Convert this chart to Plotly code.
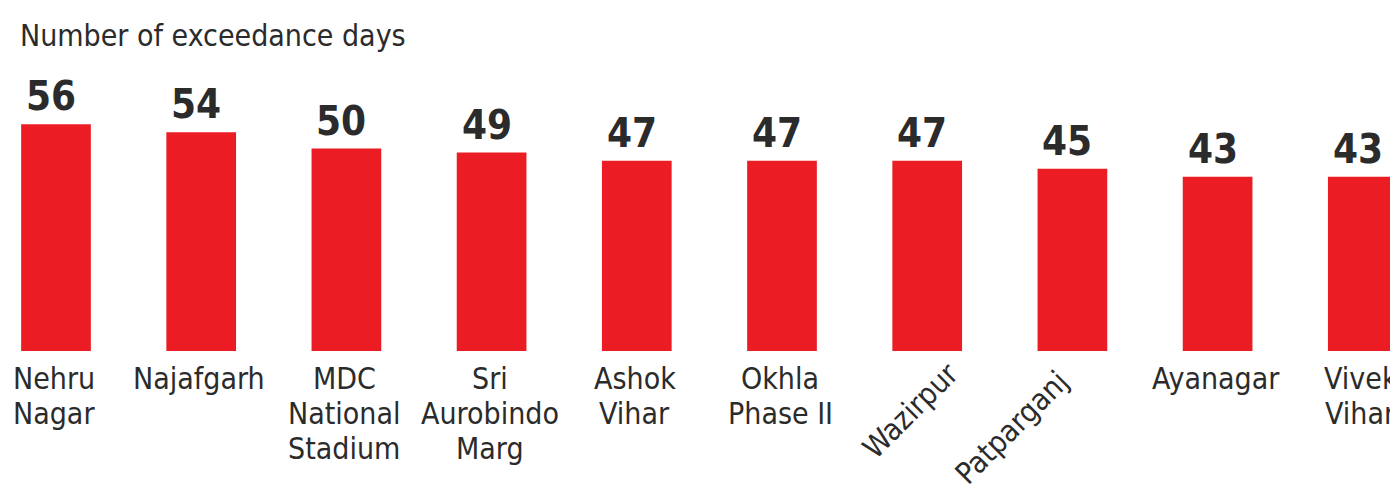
import plotly.graph_objects as go

# ---- data ----
stations = ["Nehru Nagar", "Najafgarh", "MDC National Stadium", "Sri Aurobindo Marg",
            "Ashok Vihar", "Okhla Phase II", "Wazirpur", "Patparganj", "Ayanagar", "Vivek Vihar"]
label_lines = [["Nehru", "Nagar"], ["Najafgarh"], ["MDC", "National", "Stadium"],
               ["Sri", "Aurobindo", "Marg"], ["Ashok", "Vihar"], ["Okhla", "Phase II"],
               ["Wazirpur"], ["Patparganj"], ["Ayanagar"], ["Vivek", "Vihar"]]
exceedance_days = [56, 54, 50, 49, 47, 47, 47, 45, 43, 43]
title_text = "Number of exceedance days"

# ---- styling ----
BAR_COLOR = "#eb1c24"
TEXT_COLOR = "#2b2b2b"
LABEL_FONT = "DejaVu Sans Condensed, Liberation Sans Narrow, DejaVu Sans, sans-serif"
VALUE_FONT = "Liberation Sans Narrow, DejaVu Sans Condensed, DejaVu Sans, sans-serif"
# the page body adds an 8px offset, so the figure is 8px smaller than the window
W, H = 1390, 482
PLOT_BOTTOM_MARGIN = 139
BAR_PITCH = 145.2      # px between bar centres
FIRST_CENTER = 48      # px of first bar centre
PX_PER_DAY = 4.05
rotated = {"Wazirpur": (-17, -59), "Patparganj": (-61, -76)}  # (xshift, yshift) of label centre

fig = go.Figure()
fig.add_trace(go.Bar(
    x=stations, y=exceedance_days, width=0.48,
    marker=dict(color=BAR_COLOR, line=dict(width=0)),
    hoverinfo="x+y",
))

annotations = []
# values above bars
for s, v in zip(stations, exceedance_days):
    annotations.append(dict(
        x=s, y=v, xref="x", yref="y", text=str(v), showarrow=False,
        xanchor="center", yanchor="bottom", xshift=-5, yshift=3,
        font=dict(family=VALUE_FONT, size=40, color=TEXT_COLOR, weight="bold"),
    ))

# category labels below bars
for s, lines in zip(stations, label_lines):
    if s in rotated:
        xs, ys = rotated[s]
        annotations.append(dict(
            x=s, y=0, xref="x", yref="y", text=lines[0], showarrow=False,
            xanchor="center", yanchor="middle", xshift=xs, yshift=ys, textangle=-45,
            font=dict(family=LABEL_FONT, size=30, color=TEXT_COLOR),
        ))
        continue
    for k, line in enumerate(lines):
        annotations.append(dict(
            x=s, y=0, xref="x", yref="y", text=line, showarrow=False,
            xanchor="center", yanchor="top", xshift=-2, yshift=-8 - 35 * k,
            font=dict(family=LABEL_FONT, size=30, color=TEXT_COLOR),
        ))

# title
annotations.append(dict(
    x=10 / W, y=1, xref="paper", yref="paper", text=title_text, showarrow=False,
    xanchor="left", yanchor="top", yshift=-8,
    font=dict(family=LABEL_FONT, size=30, color=TEXT_COLOR),
))

plot_h = H - PLOT_BOTTOM_MARGIN
fig.update_layout(
    width=W, height=H,
    margin=dict(l=0, r=0, t=0, b=PLOT_BOTTOM_MARGIN, pad=0),
    paper_bgcolor="white", plot_bgcolor="white",
    showlegend=False,
    xaxis=dict(range=[-FIRST_CENTER / BAR_PITCH, (W - FIRST_CENTER) / BAR_PITCH],
               showticklabels=False, showgrid=False, zeroline=False, showline=False, ticks=""),
    yaxis=dict(range=[0, plot_h / PX_PER_DAY], showticklabels=False, showgrid=False,
               zeroline=False, showline=False, ticks=""),
    annotations=annotations,
)

fig.write_html("out.html")
